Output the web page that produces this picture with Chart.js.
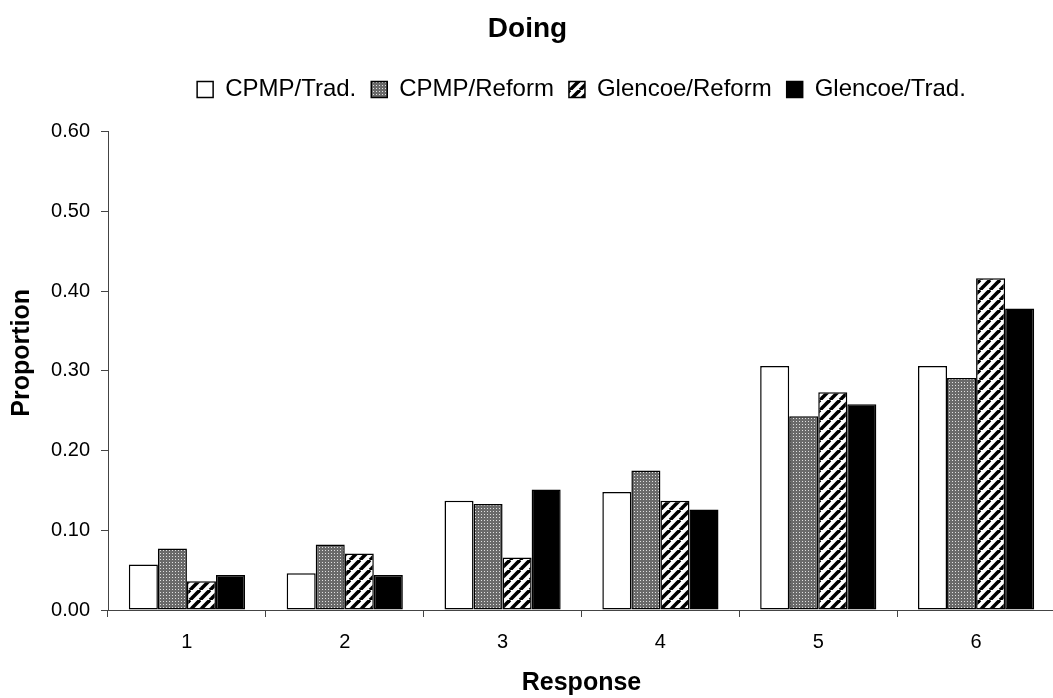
<!DOCTYPE html>
<html>
<head>
<meta charset="utf-8">
<script src="https://cdn.jsdelivr.net/npm/chart.js@4/dist/chart.umd.min.js"></script>
<style>
  html, body { margin: 0; padding: 0; background: #fff; overflow: hidden; }
  #wrap { width: 1058px; height: 698px; position: relative; }
</style>
</head>
<body>
<div id="wrap"><canvas id="grafica"></canvas></div>
<script>
const respuestas = ['1', '2', '3', '4', '5', '6'];
const cpmpTrad = [0.057, 0.046, 0.137, 0.148, 0.306, 0.306];
const cpmpReform = [0.077, 0.082, 0.133, 0.175, 0.243, 0.291];
const glencoeReform = [0.036, 0.071, 0.066, 0.137, 0.273, 0.416];
const glencoeTrad = [0.044, 0.044, 0.151, 0.126, 0.258, 0.378];
const ticksY = [0, 0.1, 0.2, 0.3, 0.4, 0.5, 0.6];

const fuente = "'Liberation Sans', Arial, sans-serif";

// trama gris punteada
function tramaGris() {
    const c = document.createElement('canvas');
    c.width = 3; c.height = 3;
    const g = c.getContext('2d');
    g.fillStyle = '#6a6a6a';
    g.fillRect(0, 0, 3, 3);
    g.fillStyle = '#e0e0e0';
    g.fillRect(1, 1, 1, 1);
    return g.createPattern(c, 'repeat');
}

// trama de rayas diagonales
function tramaRayas() {
    const c = document.createElement('canvas');
    c.width = 10; c.height = 10;
    const g = c.getContext('2d');
    g.fillStyle = '#fff';
    g.fillRect(0, 0, 10, 10);
    g.strokeStyle = '#000';
    g.lineWidth = 3.6;
    for (const k of [-10, 0, 10]) {
        g.beginPath();
        g.moveTo(k, 10);
        g.lineTo(k + 10, 0);
        g.stroke();
    }
    return g.createPattern(c, 'repeat');
}

// leyenda: más espacio por debajo y centrada sobre el área del gráfico
const ajustarLeyenda = {
    id: 'ajustarLeyenda',
    beforeInit(chart) {
        const l = chart.legend;
        const fitOriginal = l.fit;
        l.fit = function () {
            fitOriginal.call(this);
            this.height += 20;
        };
    },
    afterLayout(chart) {
        const l = chart.legend;
        const centro = (chart.chartArea.left + chart.chartArea.right) / 2;
        const s = centro - (l.left + l.right) / 2;
        l.left += s;
        l.right += s;
    }
};

// título del eje vertical, algo por encima del centro
const tituloY = {
    id: 'tituloY',
    afterDraw(chart) {
        const ctx = chart.ctx;
        const a = chart.chartArea;
        ctx.save();
        ctx.translate(22, (a.top + a.bottom) / 2 - 18);
        ctx.rotate(-Math.PI / 2);
        ctx.font = "bold 25px " + fuente;
        ctx.fillStyle = '#000';
        ctx.textAlign = 'center';
        ctx.textBaseline = 'middle';
        ctx.fillText('Proportion', 0, 0);
        ctx.restore();
    }
};

const comunes = { borderColor: '#000', borderWidth: 1.5, borderSkipped: false,
    categoryPercentage: 0.736, barPercentage: 1.0 };

new Chart(document.getElementById('grafica'), {
    type: 'bar',
    data: {
        labels: respuestas,
        datasets: [
            { label: 'CPMP/Trad.', data: cpmpTrad, backgroundColor: '#fff', ...comunes },
            { label: 'CPMP/Reform', data: cpmpReform, backgroundColor: tramaGris(), ...comunes },
            { label: 'Glencoe/Reform', data: glencoeReform, backgroundColor: tramaRayas(), ...comunes },
            { label: 'Glencoe/Trad.', data: glencoeTrad, backgroundColor: '#000', ...comunes }
        ]
    },
    options: {
        responsive: true,
        maintainAspectRatio: false,
        animation: false,
        layout: { padding: { top: 0, right: 3, left: 0, bottom: 0 } },
        plugins: {
            title: {
                display: true,
                text: 'Doing',
                color: '#000',
                font: { family: fuente, size: 28, weight: 'bold' },
                padding: { top: 12, bottom: 17 }
            },
            legend: {
                position: 'top',
                labels: {
                    color: '#000',
                    font: { family: fuente, size: 24 },
                    boxWidth: 16,
                    boxHeight: 16,
                    padding: 15
                }
            },
            tooltip: { enabled: false }
        },
        scales: {
            x: {
                grid: { display: true, drawOnChartArea: false, tickLength: 7, color: '#444', lineWidth: 1 },
                border: { color: '#444', width: 1 },
                ticks: { color: '#000', font: { family: fuente, size: 20 }, padding: 13 },
                title: {
                    display: true,
                    text: 'Response',
                    color: '#000',
                    font: { family: fuente, size: 25, weight: 'bold' },
                    padding: { top: 8, bottom: 0 }
                },
                afterFit(scale) { scale.height = 88; }
            },
            y: {
                min: 0,
                max: 0.6,
                afterBuildTicks(scale) { scale.ticks = ticksY.map(v => ({ value: v })); },
                grid: { display: true, drawOnChartArea: false, tickLength: 7, color: '#444', lineWidth: 1 },
                border: { color: '#444', width: 1 },
                ticks: {
                    color: '#000',
                    font: { family: fuente, size: 20 },
                    padding: 11,
                    callback: v => Number(v).toFixed(2)
                },
                afterFit(scale) { scale.width = 108; }
            }
        }
    },
    plugins: [ajustarLeyenda, tituloY]
});
</script>
</body>
</html>
